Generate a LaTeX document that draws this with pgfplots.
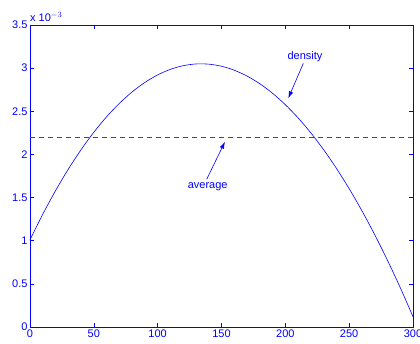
\documentclass[border=0pt]{standalone}
\usepackage{pgfplots}
\pgfplotsset{compat=1.18}
\usepackage{fontspec}
\setmainfont{Liberation Sans}
\usetikzlibrary{arrows.meta}
\definecolor{mblue}{rgb}{0,0,1}
\definecolor{mgreen}{rgb}{0,0.5,0}
\begin{document}
\begin{tikzpicture}
\begin{axis}[
  scale only axis,
  width=383pt, height=302pt,
  xmin=0, xmax=300, ymin=0, ymax=3.5,
  xtick={0,50,...,300},
  ytick={0,0.5,...,3.5},
  yticklabels={0,0.5,1,1.5,2,2.5,3,3.5},
  tick align=inside,
  major tick length=4pt,
  axis line style={mblue, line width=0.8pt},
  every tick/.style={mblue, line width=0.5pt},
  tick label style={font=\fontsize{11}{13}\selectfont, text=mblue},
  /pgf/number format/assume math mode=true,
  xticklabel style={yshift=1pt},
  yticklabel style={xshift=1pt},
  clip=false,
]
\addplot[mblue, line width=0.6pt, smooth] coordinates {
(0,1.010) (10,1.3069) (20,1.5798) (30,1.8291) (40,2.0548) (50,2.2570)
(60,2.4359) (70,2.5917) (80,2.7245) (90,2.8344) (100,2.9216) (110,2.9862)
(120,3.0284) (130,3.0483) (140,3.0461) (150,3.0220) (160,2.9759) (170,2.9082)
(180,2.8190) (190,2.7083) (200,2.5764) (210,2.4233) (220,2.2493) (230,2.0545)
(240,1.8390) (250,1.6030) (260,1.3466) (270,1.0699) (280,0.7731) (290,0.4565)
(300,0.1200)
};
\addplot[mgreen, dashed, line width=0.6pt, dash pattern=on 5pt off 4pt] coordinates {(0,2.2) (300,2.2)};
\node[font=\fontsize{11}{13}\selectfont, text=mblue] at (axis cs:215.4,3.133) {density};
\draw[mblue, line width=0.6pt, -{Latex[length=7pt,width=4.5pt]}] (axis cs:214.1,3.056) -- (axis cs:202.3,2.650);
\node[font=\fontsize{11}{13}\selectfont, text=mblue] at (axis cs:139.2,1.626) {average};
\draw[mblue, line width=0.6pt, -{Latex[length=7pt,width=4.5pt]}] (axis cs:138.4,1.712) -- (axis cs:152.7,2.147);
\node[anchor=south west, inner sep=0pt, font=\fontsize{11}{13}\selectfont, text=mblue] at ([yshift=3pt]rel axis cs:0,1) {x 10$^{-3}$};
\coordinate (sw) at (rel axis cs:0,0);
\coordinate (ne) at (rel axis cs:1,1);
\end{axis}
\pgfresetboundingbox
\path[use as bounding box] ([shift={(-30pt,-17pt)}]sw) rectangle ([shift={(7pt,25pt)}]ne);
\end{tikzpicture}
\end{document}
